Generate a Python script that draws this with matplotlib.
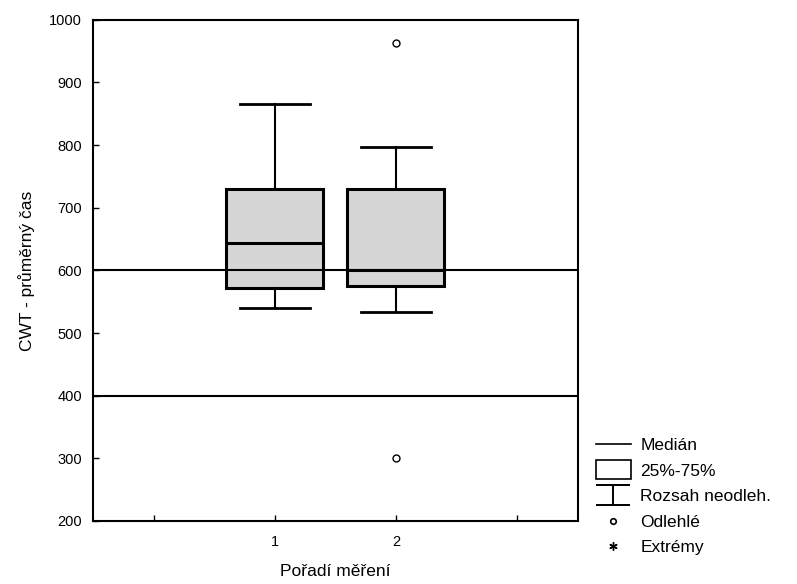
import numpy as np
import matplotlib
matplotlib.use("Agg")
from matplotlib import pyplot as plt
from matplotlib.lines import Line2D
from matplotlib.patches import Rectangle
from matplotlib.path import Path
from matplotlib.legend_handler import HandlerPatch

plt.rcParams['font.family'] = ['Liberation Sans', 'DejaVu Sans']

# box statistics
positions = [1, 2]
medians = [644, 600]
q1 = [572, 575]
q3 = [730, 730]
whis_lo = [540, 534]
whis_hi = [866, 797]
outliers = [[], [963, 300]]
ref_lines = [600, 400]

legend_labels = ['Medián', '25%-75%', 'Rozsah neodleh.', 'Odlehlé', 'Extrémy']

stats = []
for i in range(len(positions)):
    stats.append(dict(med=medians[i], q1=q1[i], q3=q3[i],
                      whislo=whis_lo[i], whishi=whis_hi[i], fliers=outliers[i]))

fig = plt.figure(figsize=(7.97, 5.84), dpi=100)
ax = fig.add_axes([0.1167, 0.108, 0.608, 0.858])

ax.bxp(stats, positions=positions, widths=0.8, patch_artist=True,
       boxprops=dict(facecolor='#d6d6d6', edgecolor='black', lw=2.2),
       medianprops=dict(color='black', lw=2.2),
       whiskerprops=dict(color='black', lw=1.5),
       capprops=dict(color='black', lw=2),
       capwidths=0.58,
       flierprops=dict(marker='o', markersize=5, markerfacecolor='white',
                       markeredgecolor='black', markeredgewidth=1.0),
       zorder=3)

# reference lines drawn over the boxes
for y in ref_lines:
    ax.axhline(y, color='black', lw=1.5, zorder=4)

ax.set_xlim(-0.5, 3.5)
ax.set_ylim(200, 1000)
ax.set_xticks([0, 1, 2, 3])
ax.set_xticklabels(['', '1', '2', ''])
ax.set_yticks(np.arange(200, 1001, 100))
ax.tick_params(direction='in', length=4, width=1, labelsize=10.5)
ax.tick_params(axis='y', pad=8)
ax.tick_params(axis='x', pad=10)
for s in ax.spines.values():
    s.set_linewidth(1.5)

ax.set_xlabel('Pořadí měření', fontsize=12.5, labelpad=11)
ax.set_ylabel('CWT - průměrný čas', fontsize=12.5, labelpad=10)


# legend glyphs
def tall_box(legend, orig_handle, xdescent, ydescent, width, height, fontsize):
    return Rectangle((-xdescent, -ydescent - 0.3 * height), width, 1.6 * height)


ibeam = Path([(-1.75, 1), (1.75, 1), (0, 1), (0, -1), (-1.75, -1), (1.75, -1)],
             [Path.MOVETO, Path.LINETO, Path.MOVETO, Path.LINETO, Path.MOVETO, Path.LINETO])
handles = [
    Line2D([], [], color='black', lw=1.2),
    Rectangle((0, 0), 1, 1, facecolor='white', edgecolor='black', lw=1.2),
    Line2D([], [], ls='none', marker=ibeam, markersize=25, markerfacecolor='none',
           markeredgecolor='black', markeredgewidth=1.4),
    Line2D([], [], ls='none', marker='o', markersize=4, markerfacecolor='white',
           markeredgecolor='black', markeredgewidth=1.2),
    Line2D([], [], ls='none', marker=(6, 2, 0), markersize=6,
           markeredgecolor='black', markeredgewidth=1),
]
fig.legend(handles, legend_labels, loc='upper left', bbox_to_anchor=(0.737, 0.265),
           frameon=False, fontsize=12.5, handlelength=2.0, handletextpad=0.55,
           labelspacing=0.6, borderpad=0,
           handler_map={Rectangle: HandlerPatch(patch_func=tall_box)})

fig.savefig('out.png', dpi=100)
